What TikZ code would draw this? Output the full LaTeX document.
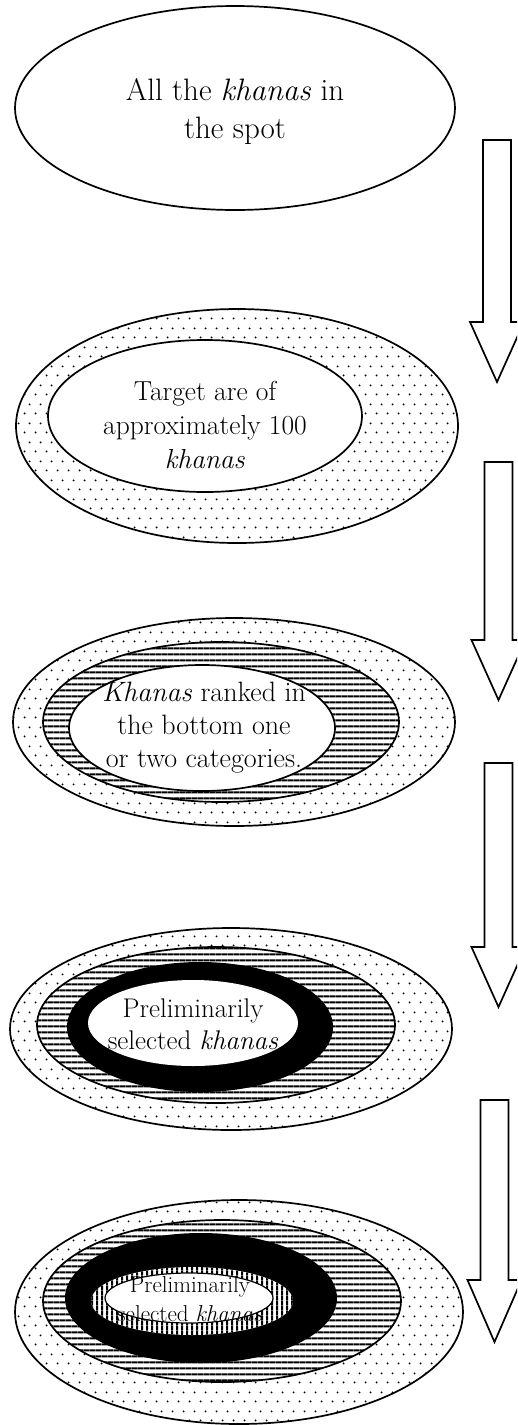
\documentclass[tikz,border=0pt]{standalone}
\usepackage{fontspec}
\usetikzlibrary{shapes.geometric,patterns}
\pgfdeclarepatternformonly{sdots}{\pgfqpoint{0pt}{0pt}}{\pgfqpoint{11pt}{19pt}}{\pgfqpoint{11pt}{19pt}}{%
  \pgfpathcircle{\pgfqpoint{2.75pt}{4.75pt}}{1.1pt}%
  \pgfpathcircle{\pgfqpoint{8.25pt}{14.25pt}}{1.1pt}%
  \pgfusepath{fill}}
\pgfdeclarepatternformonly{hlines}{\pgfqpoint{0pt}{0pt}}{\pgfqpoint{6pt}{6pt}}{\pgfqpoint{6pt}{6pt}}{%
  \pgfsetlinewidth{2.5pt}%
  \pgfpathmoveto{\pgfqpoint{-0.5pt}{3pt}}%
  \pgfpathlineto{\pgfqpoint{6.5pt}{3pt}}%
  \pgfusepath{stroke}}
\pgfdeclarepatternformonly{vlines}{\pgfqpoint{0pt}{0pt}}{\pgfqpoint{5pt}{5pt}}{\pgfqpoint{5pt}{5pt}}{%
  \pgfsetlinewidth{2.4pt}%
  \pgfpathmoveto{\pgfqpoint{2.5pt}{-0.5pt}}%
  \pgfpathlineto{\pgfqpoint{2.5pt}{5.5pt}}%
  \pgfusepath{stroke}}
\tikzset{
  x=1pt, y=-1pt,
  lay/.style={ellipse, draw, line width=1.7pt, inner sep=0pt, fill=white},
  dotfill/.style={preaction={fill=white}, pattern=sdots, pattern color=black},
  hfill/.style={preaction={fill=white}, pattern=hlines, pattern color=black},
  vfill/.style={preaction={fill=white}, pattern=vlines, pattern color=black},
  blk/.style={ellipse, fill=black, inner sep=0pt},
  label/.style={align=center, inner sep=0pt},
  arrowline/.style={draw, line width=1.7pt, fill=white, line join=miter},
}
\newcommand\blockarrow[4]{%
  \path[arrowline] (#1-14,#2) -- (#1+14,#2) -- (#1+14,#3) -- (#1+27,#3)
     -- (#1,#4) -- (#1-27,#3) -- (#1-14,#3) -- cycle;}
\begin{document}
\begin{tikzpicture}
\useasboundingbox (0,0) rectangle (517,1425);
\clip (0,0) rectangle (517,1425);
\fill[white] (0,0) rectangle (517,1425);

% stage 1
\node[lay, minimum width=440pt, minimum height=204pt] (e1) at (235,108) {};
\node[label, font=\fontsize{31}{38}\selectfont] (t1) at (235,112) {All the \textit{khanas} in\\the spot};

% stage 2
\node[lay, dotfill, minimum width=442pt, minimum height=234pt] (e2a) at (237,426) {};
\node[lay, minimum width=314pt, minimum height=152pt] (e2b) at (205,416) {};
\node[label, font=\fontsize{27.5}{34}\selectfont] (t2) at (205,425) {Target are of\\approximately 100\\\textit{khanas}};

% stage 3
\node[lay, dotfill, minimum width=442pt, minimum height=208pt] (e3a) at (234,722) {};
\node[lay, hfill, minimum width=356pt, minimum height=160pt] (e3b) at (221,722) {};
\node[lay, minimum width=266pt, minimum height=126pt] (e3c) at (202,728) {};
\node[label, font=\fontsize{28}{33}\selectfont] (t3) at (204,728) {\textit{Khanas} ranked in\\the bottom one\\or two categories.};

% stage 4
\node[lay, dotfill, minimum width=442pt, minimum height=202pt] (e4a) at (231,1029) {};
\node[lay, hfill, minimum width=358pt, minimum height=156pt] (e4b) at (216,1025) {};
\node[blk, minimum width=266pt, minimum height=130pt] (e4c) at (200,1027) {};
\node[lay, draw=none, minimum width=210pt, minimum height=86pt] (e4d) at (193,1023) {};
\node[label, font=\fontsize{27}{32}\selectfont] (t4) at (193,1024) {Preliminarily\\selected \textit{khanas}};

% stage 5
\node[lay, dotfill, minimum width=448pt, minimum height=224pt] (e5a) at (239,1312) {};
\node[lay, hfill, minimum width=358pt, minimum height=162pt] (e5b) at (222,1301) {};
\node[blk, minimum width=272pt, minimum height=130pt] (e5c) at (201,1298) {};
\node[lay, draw=none, vfill, minimum width=202pt, minimum height=68pt] (e5d) at (192,1301) {};
\node[lay, minimum width=168pt, minimum height=50pt, line width=1.2pt] (e5e) at (189,1298) {};
\node[label, font=\fontsize{23}{29}\selectfont] (t5) at (190,1299) {Preliminarily\\selected \textit{khanas}};

% arrows
\blockarrow{497}{140}{322}{382}
\blockarrow{498.5}{462}{640}{700}
\blockarrow{498.5}{763}{947}{1007}
\blockarrow{494.5}{1100}{1280}{1342}
\end{tikzpicture}
\end{document}
